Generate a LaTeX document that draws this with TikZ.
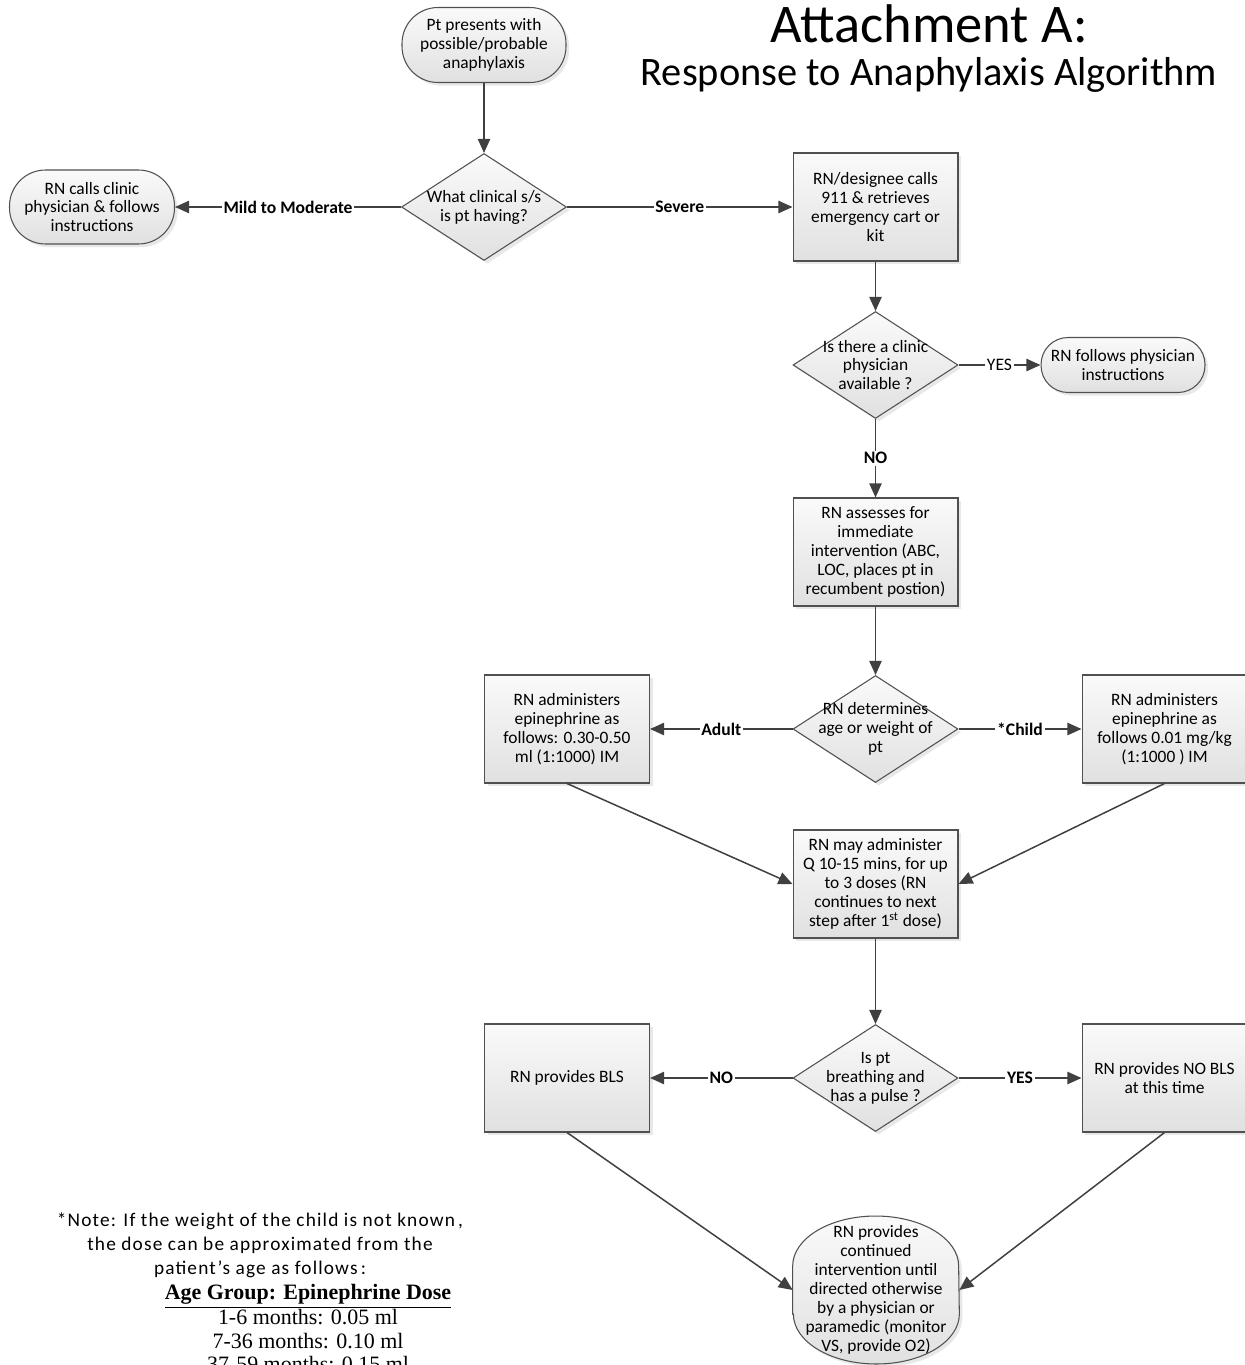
\documentclass[tikz,border=0pt]{standalone}
\usepackage{fontspec}
\setmainfont{Carlito}
\newfontfamily\notefont{Carlito}[LetterSpace=6]
\newfontfamily\serifnote{Liberation Serif}
\usetikzlibrary{shapes.geometric,arrows.meta,shadows,backgrounds}
\definecolor{linegray}{HTML}{404040}
\definecolor{bordergray}{HTML}{505050}
\tikzset{
  shapefill/.style={draw=bordergray, line width=0.6pt, top color=black!2, bottom color=black!12,
    drop shadow={shadow xshift=1.8pt, shadow yshift=-1.8pt, fill=black!18}},
  base/.style={shapefill, align=center, font=\fontsize{9.9}{10.8}\selectfont, inner sep=0pt},
  procbox/.style={base, rectangle, minimum width=3.3cm, minimum height=2.16cm},
  termbox/.style={base, rectangle, rounded corners=#1},
  decision/.style={base, diamond, minimum width=3.3cm, minimum height=2.14cm},
  dtext/.style={align=center, font=\fontsize{9.9}{10.8}\selectfont, inner sep=0pt},
  conn/.style={draw=linegray, line width=0.85pt, -{Triangle[length=8pt,width=7pt]}},
  elabel/.style={fill=white, inner sep=1pt, font=\fontsize{10}{12}\selectfont\bfseries},
  elabelr/.style={fill=white, inner sep=1pt, font=\fontsize{10}{12}\selectfont},
}
\begin{document}
\begin{tikzpicture}[x=0.02cm,y=-0.02cm]
\useasboundingbox (0,0) rectangle (1244,1365);

% Title
\node[font=\fontsize{31}{37}\selectfont, anchor=base, inner sep=0pt] (t1) at (929,43) {Attachment A:};
\node[font=\fontsize{23}{28}\selectfont, anchor=base, inner sep=0pt] (t2) at (929,86) {Response to Anaphylaxis Algorithm};

% Nodes
\node[termbox=0.72cm, minimum width=3.28cm, minimum height=1.5cm] (start) at (484,45)
  {Pt presents with\\possible/probable\\anaphylaxis};
\node[decision] (d1) at (484,207) {};
\node[dtext] (d1t) at (d1) {What clinical s/s\\is pt having?};
\node[termbox=0.72cm, minimum width=3.3cm, minimum height=1.48cm] (lt) at (92,207)
  {RN calls clinic\\physician \& follows\\instructions};
\node[procbox] (b1) at (875.5,207)
  {RN/designee calls\\911 \& retrieves\\emergency cart or\\kit};
\node[decision] (d2) at (875.5,365) {};
\node[dtext] (d2t) at (d2) {Is there a clinic\\physician\\available ?};
\node[termbox=0.54cm, minimum width=3.28cm, minimum height=1.1cm] (t2n) at (1123,365)
  {RN follows physician\\instructions};
\node[procbox] (b2) at (875.5,552)
  {RN assesses for\\immediate\\intervention (ABC,\\LOC, places pt in\\recumbent postion)};
\node[decision] (d3) at (875.5,729) {};
\node[dtext] (d3t) at (d3) {RN determines\\age or weight of\\pt};
\node[procbox] (adult) at (567,729)
  {RN administers\\epinephrine as\\follows: 0.30-0.50\\ml (1:1000) IM};
\node[procbox] (child) at (1164.5,729)
  {RN administers\\epinephrine as\\follows 0.01 mg/kg\\(1:1000 ) IM};
\node[procbox] (b3) at (875.5,884)
  {RN may administer\\Q 10-15 mins, for up\\to 3 doses (RN\\continues to next\\step after 1\textsuperscript{st} dose)};
\node[decision] (d4) at (875.5,1078) {};
\node[dtext] (d4t) at (d4) {Is pt\\breathing and\\has a pulse ?};
\node[procbox] (nob) at (567,1078) {RN provides BLS};
\node[procbox] (yesb) at (1164.5,1078) {RN provides NO BLS\\at this time};

% Final (vertical stadium)
\node[dtext, minimum width=3.32cm, minimum height=2.96cm] (fin) at (876,1290)
  {RN provides\\continued\\intervention until\\directed otherwise\\by a physician or\\paramedic (monitor\\VS, provide O2)};
\begin{scope}[on background layer]
\path[shapefill] ([yshift=-0.48cm]fin.west) -- ([yshift=0.48cm]fin.west)
  arc[start angle=180, end angle=0, x radius=1.66cm, y radius=1cm]
  -- ([yshift=-0.48cm]fin.east)
  arc[start angle=0, end angle=-180, x radius=1.66cm, y radius=1cm] -- cycle;
\end{scope}

% Connectors
\draw[conn] (start.south) -- (d1.north);
\draw[conn] (d1.west) -- node[elabel] {Mild to Moderate} (lt.east);
\draw[conn] (d1.east) -- node[elabel] {Severe} (b1.west);
\draw[conn] (b1.south) -- (d2.north);
\draw[conn] (d2.east) -- node[elabelr] {YES} (t2n.west);
\draw[conn] (d2.south) -- node[elabel] {NO} (b2.north);
\draw[conn] (b2.south) -- (d3.north);
\draw[conn] (d3.west) -- node[elabel] {Adult} (adult.east);
\draw[conn] (d3.east) -- node[elabel] {*Child} (child.west);
\draw[conn] (adult.south) -- (b3.west);
\draw[conn] (child.south) -- (b3.east);
\draw[conn] (b3.south) -- (d4.north);
\draw[conn] (d4.west) -- node[elabel] {NO} (nob.east);
\draw[conn] (d4.east) -- node[elabel] {YES} (yesb.west);
\draw[conn] (nob.south) -- (fin.west);
\draw[conn] (yesb.south) -- (fin.east);

% Note
\node[font=\notefont\fontsize{11}{13.6}\selectfont, align=center, inner sep=0pt] (note) at (260,1245)
  {*Note: If the weight of the child is not known\,,\\the dose can be approximated from the\\patient’s age as follows\,:};
\node[font=\serifnote\fontsize{12.5}{13.3}\selectfont, align=center, inner sep=0pt, anchor=north] (ages) at (308,1284)
  {\underline{\textbf{Age Group: Epinephrine Dose}}\\1-6 months: 0.05 ml\\7-36 months: 0.10 ml\\37-59 months: 0.15 ml};
\end{tikzpicture}
\end{document}
